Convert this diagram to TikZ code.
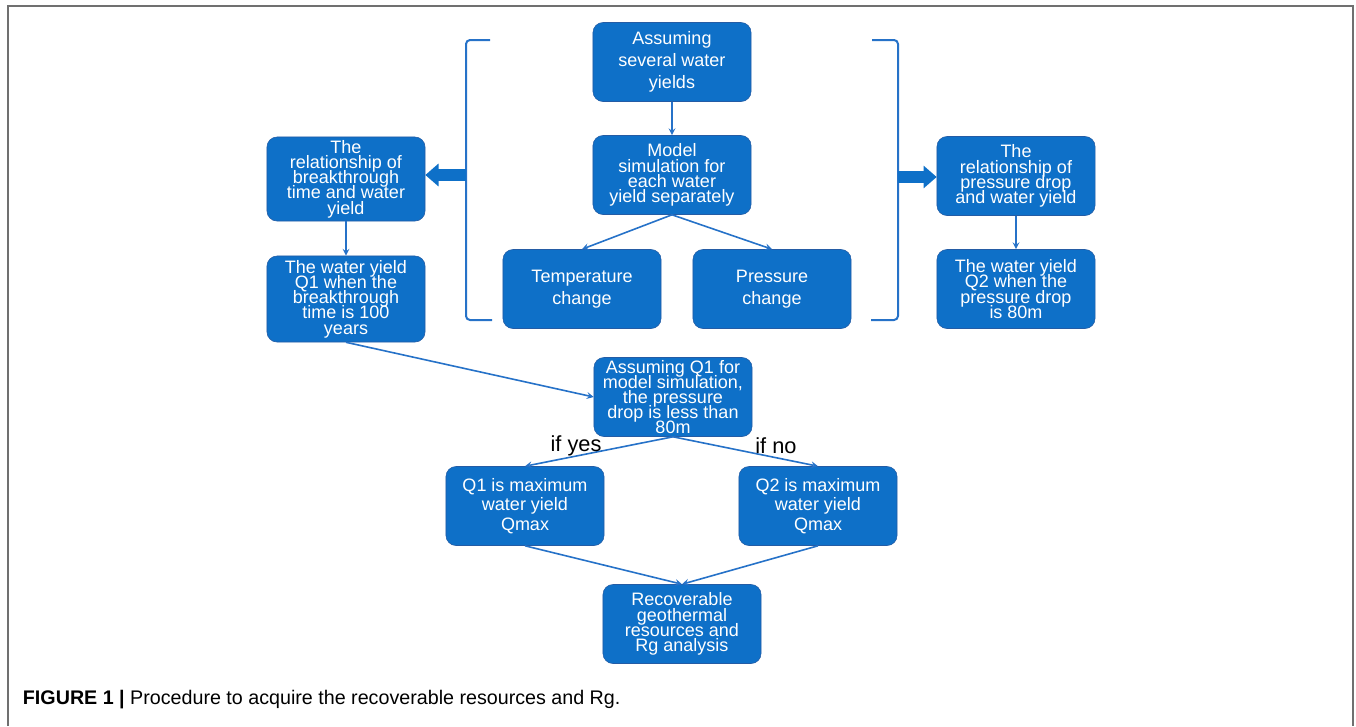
\documentclass[tikz,border=0pt]{standalone}
\usepackage{fontspec}
\setmainfont{Liberation Sans}
\usetikzlibrary{arrows.meta}
\definecolor{bleu}{RGB}{14,112,200}
\definecolor{bord}{RGB}{36,92,165}
\definecolor{trait}{RGB}{38,114,200}
\definecolor{cadre}{RGB}{112,112,112}
\begin{document}
\begin{tikzpicture}[>=stealth, x=0.025cm, y=-0.025cm]
\tikzstyle{bloc}=[rectangle,rounded corners=0.25cm,draw=bord,fill=bleu,text=white,minimum width=3.95cm,minimum height=1.975cm,inner sep=0pt,align=center,font={\fontsize{12.8}{10.8}\selectfont\lineskiplimit=-1cm}]
\tikzstyle{aere}=[font={\fontsize{12.8}{15.8}\selectfont}]
\tikzstyle{moyen}=[font={\fontsize{12.8}{13.8}\selectfont}]
\tikzstyle{fleche}=[->,draw=trait,line width=0.04cm]
\tikzstyle{grosse}=[-{Triangle[length=0.33cm,width=0.55cm]},draw=bleu,line width=0.3cm]
\tikzstyle{etiq}=[text=black,font={\fontsize{15.5}{18}\selectfont}]
\useasboundingbox (0,0) rectangle (1356,726);
\draw[cadre,line width=0.05cm] (8,726) -- (8,6) -- (1353,6) -- (1353,726);
% crochets
\draw[trait,line width=0.05cm,rounded corners=0.1cm] (490,40) -- (466,40) -- (466,320) -- (492,320);
\draw[trait,line width=0.05cm,rounded corners=0.1cm] (872,40) -- (898,40) -- (898,320) -- (871,320);
\node[bloc,aere](hyp) at (672,62) {Assuming\\several water\\yields};
\node[bloc](sim) at (672,175) {Model\\simulation for\\each water\\yield separately};
\node[bloc,aere](temp) at (582,289) {Temperature\\change};
\node[bloc,aere](pres) at (772,289) {Pressure\\change};
\node[bloc,minimum height=2.1cm](relt) at (346,179) {The\\relationship of\\breakthrough\\time and water\\yield};
\node[bloc,minimum height=2.15cm](q1) at (346,299) {The water yield\\Q1 when the\\breakthrough\\time is 100\\years};
\node[bloc](relp) at (1016,176) {The\\relationship of\\pressure drop\\and water yield};
\node[bloc](q2) at (1016,289) {The water yield\\Q2 when the\\pressure drop\\is 80m};
\node[bloc](test) at (673,397) {Assuming Q1 for\\model simulation,\\the pressure\\drop is less than\\80m};
\node[bloc,moyen](q1max) at (525,506) {Q1 is maximum\\water yield\\Qmax};
\node[bloc,moyen](q2max) at (818,506) {Q2 is maximum\\water yield\\Qmax};
\node[bloc](rg) at (682,624) {Recoverable\\geothermal\\resources and\\Rg analysis};
\coordinate (cg) at (466,175);
\coordinate (cd) at (898,177);
\draw[grosse] (cg) -- (cg -| relt.east);
\draw[grosse] (cd) -- (cd -| relp.west);
\draw[fleche] (hyp) -- (sim);
\draw[fleche] (sim.south) -- (temp.north);
\draw[fleche] (sim.south) -- (pres.north);
\draw[fleche] (relt) -- (q1);
\draw[fleche] (relp) -- (q2);
\draw[fleche] (q1.south) -- (test.west);
\draw[fleche] (test.south) -- (q1max.north);
\draw[fleche] (test.south) -- (q2max.north);
\draw[fleche] (q1max.south) -- (rg.north);
\draw[fleche] (q2max.south) -- (rg.north);
\node[etiq](oui) at (576,446) {if yes};
\node[etiq](non) at (776,446) {if no};
\node[anchor=west,font={\fontsize{14}{16}\selectfont}](legende) at (18,700) {\textbf{FIGURE 1 |} Procedure to acquire the recoverable resources and Rg.};
\end{tikzpicture}
\end{document}
